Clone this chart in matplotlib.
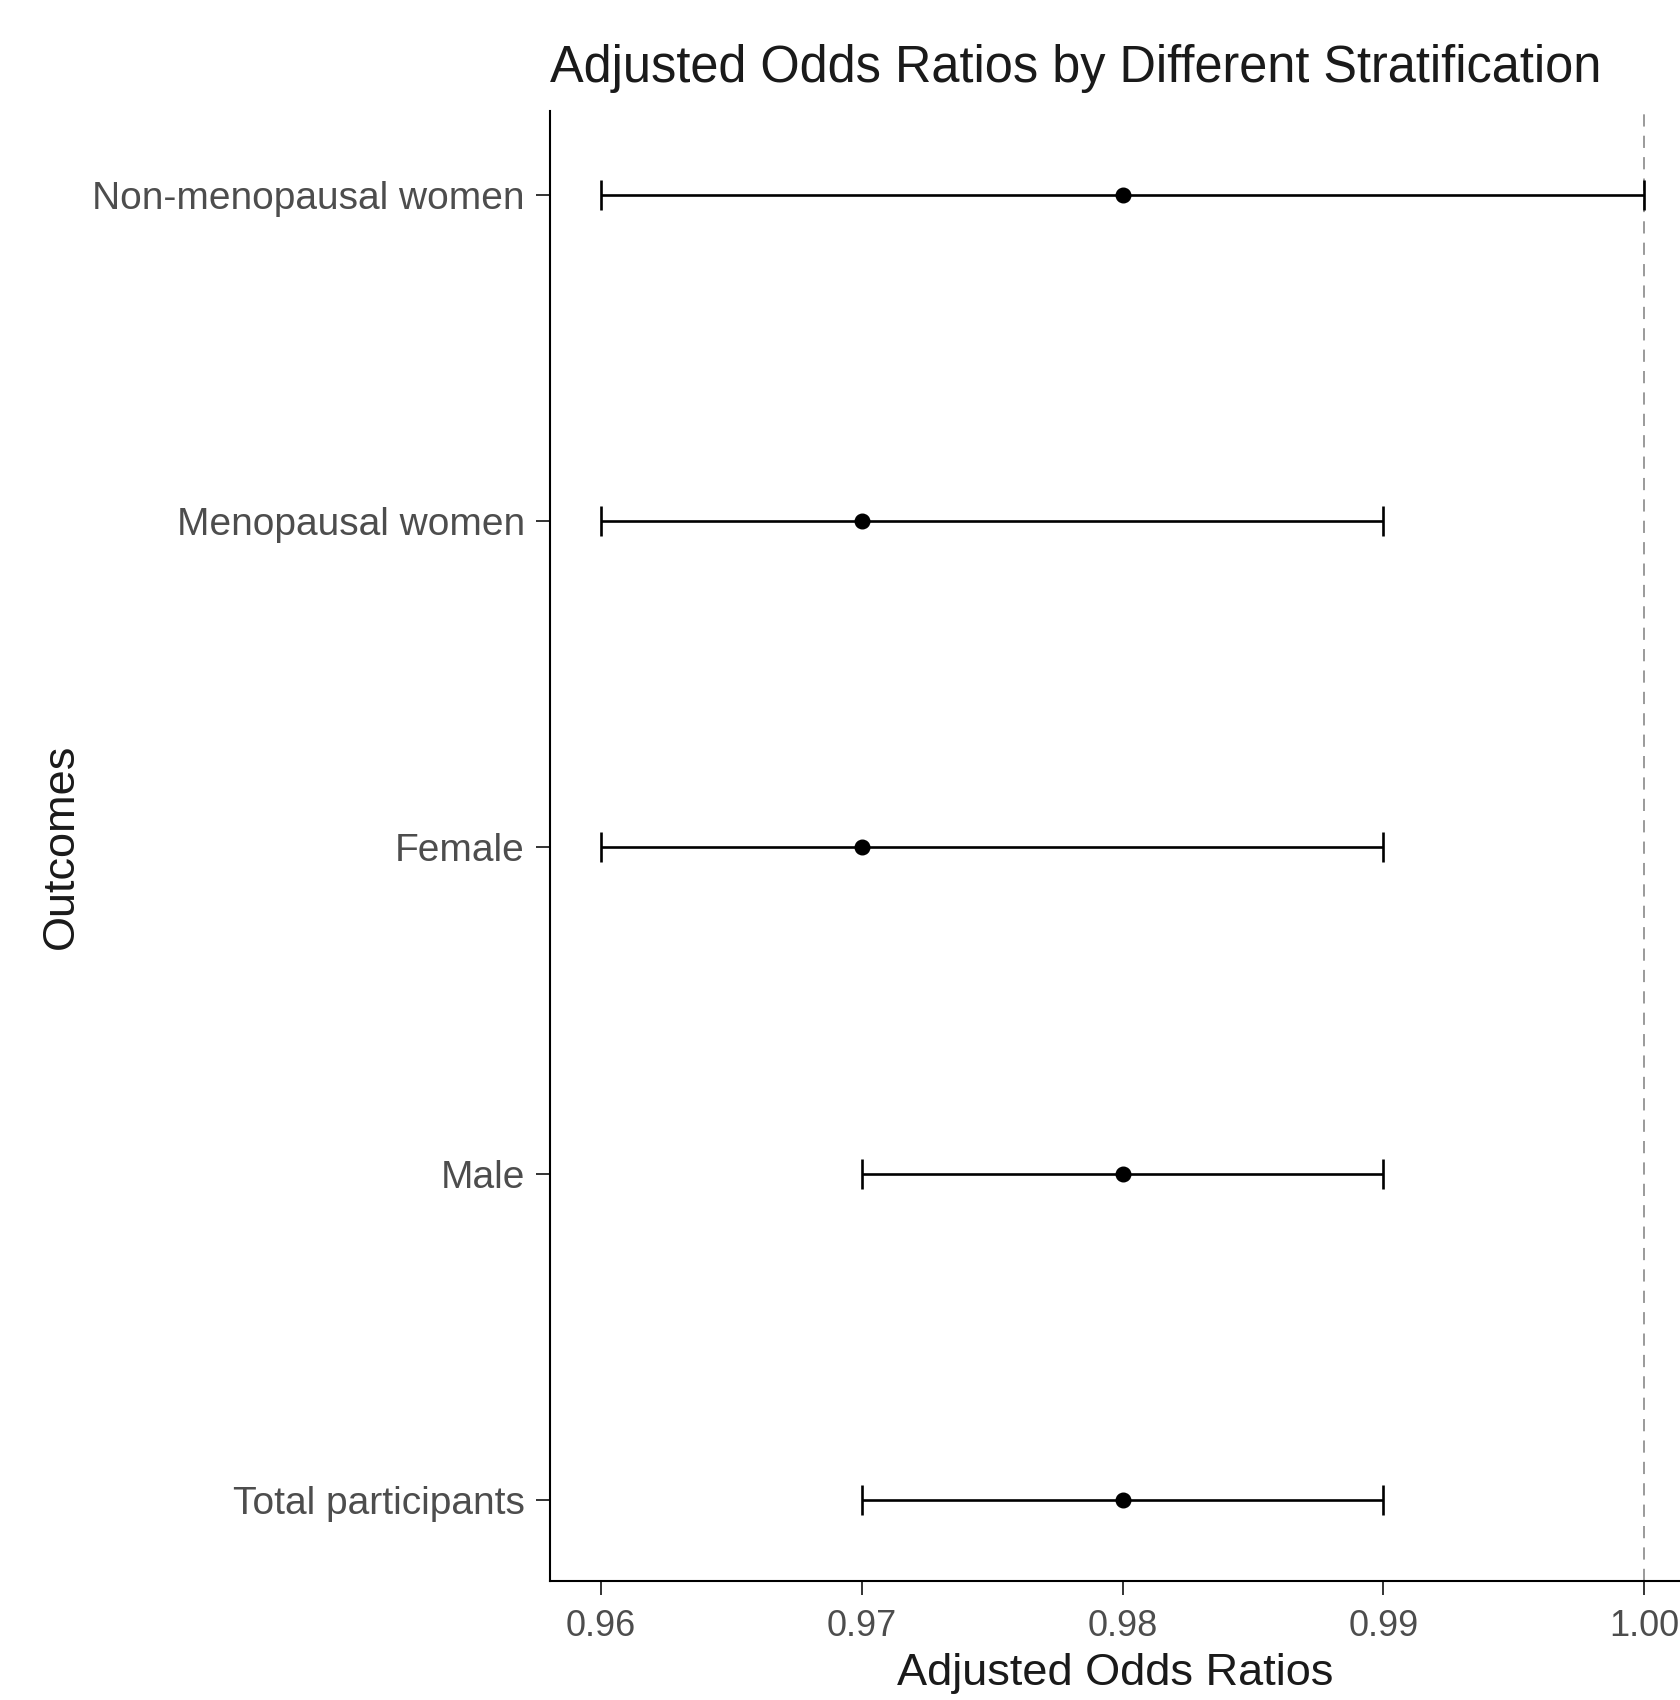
import matplotlib
matplotlib.use("Agg")
import matplotlib.pyplot as plt

# Adjusted odds ratios with 95% CI, bottom to top
groups = ["Total participants", "Male", "Female", "Menopausal women", "Non-menopausal women"]
odds = [0.98, 0.98, 0.97, 0.97, 0.98]
lower = [0.97, 0.97, 0.96, 0.96, 0.96]
upper = [0.99, 0.99, 0.99, 0.99, 1.00]
xticks = [0.96, 0.97, 0.98, 0.99, 1.00]


def main():
    plt.rcParams['font.family'] = ['Liberation Sans', 'DejaVu Sans']

    fig = plt.figure(figsize=(16.81, 17.0), dpi=100)
    ax = fig.add_axes([550 / 1681, 119 / 1700, 1131 / 1681, 1470 / 1700])

    ypos = list(range(1, len(groups) + 1))

    # reference line at OR = 1
    ax.axvline(1.0, color="#7f7f7f", lw=1.1, dashes=(8, 6), zorder=1)

    err = [[o - lo for o, lo in zip(odds, lower)], [hi - o for o, hi in zip(odds, upper)]]
    ax.errorbar(odds, ypos, xerr=err, fmt="o", color="black", ms=10.5,
                elinewidth=1.9, capsize=11, capthick=1.9, zorder=3)

    ax.set_xlim(0.95804, 1.00142)
    ax.set_ylim(0.752, 5.257)
    ax.set_xticks(xticks)
    ax.set_xticklabels(["%.2f" % v for v in xticks])
    ax.set_yticks(ypos)
    ax.set_yticklabels(groups)

    ax.tick_params(axis="x", labelsize=26, colors="#4d4d4d", length=10, width=1.4, pad=10)
    ax.tick_params(axis="y", labelsize=28, colors="#4d4d4d", length=10, width=1.4, pad=8)
    ax.tick_params(axis="both", color="#333333")

    for side in ["top", "right"]:
        ax.spines[side].set_visible(False)
    for side in ["left", "bottom"]:
        ax.spines[side].set_linewidth(1.5)
        ax.spines[side].set_color("black")

    ax.set_title("Adjusted Odds Ratios by Different Stratification", loc="left",
                 fontsize=36.4, color="#1a1a1a", pad=21)
    ax.set_xlabel("Adjusted Odds Ratios", fontsize=32.5, color="#1a1a1a")
    ax.set_ylabel("Outcomes", fontsize=32.5, color="#1a1a1a")
    ax.xaxis.set_label_coords(0.5, -0.049)
    ax.yaxis.set_label_coords(-0.414, 0.5)

    fig.savefig("out.png", dpi=100, facecolor="white")


if __name__ == '__main__':
    main()
